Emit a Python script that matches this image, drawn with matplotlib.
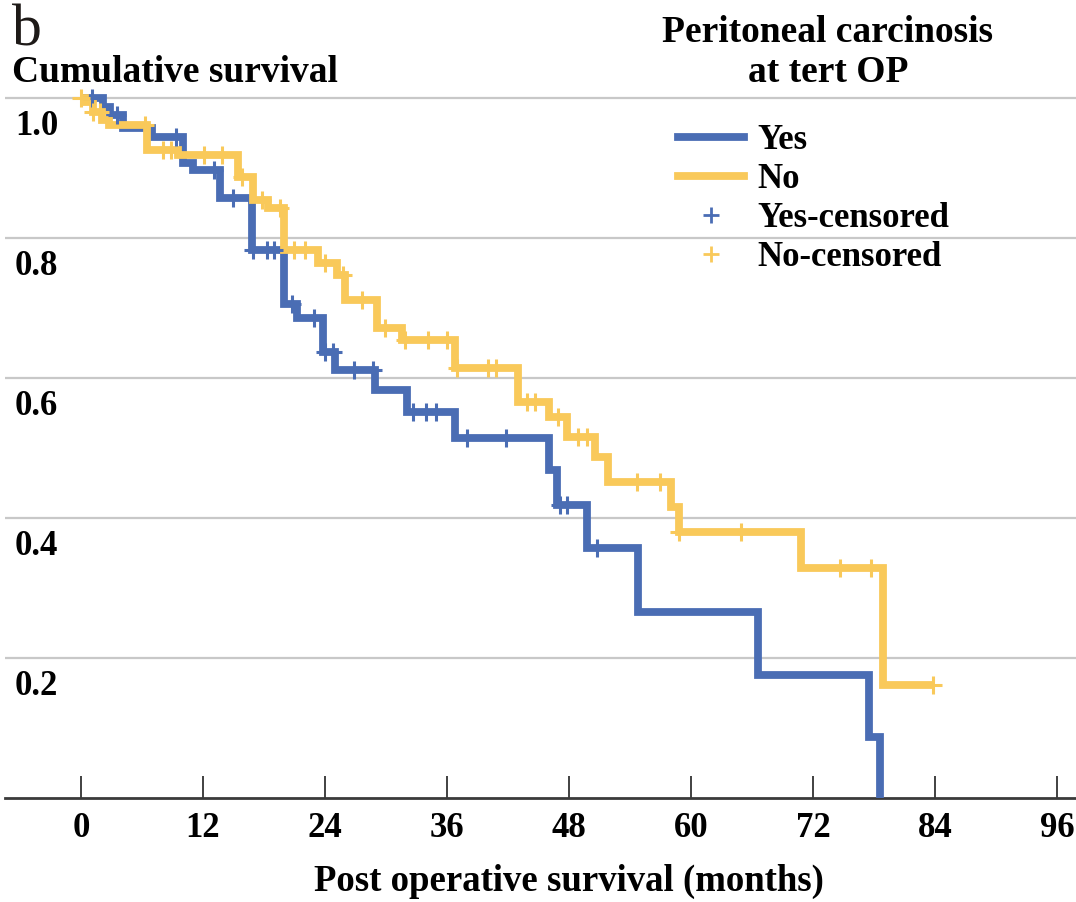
import numpy as np
import matplotlib
matplotlib.use('Agg')
import matplotlib.pyplot as plt
import matplotlib.transforms as mtransforms
from matplotlib.lines import Line2D

plt.rcParams['font.family'] = ['Liberation Serif', 'DejaVu Serif']
plt.rcParams['font.weight'] = 'bold'

# Kaplan-Meier steps (months, cumulative survival)
yes_times = [0, 2.2, 2.9, 4.1, 7.0, 10.0, 11.0, 13.7, 16.8, 20.0, 21.2, 23.8,
             25.0, 28.9, 32.1, 36.8, 46.0, 46.8, 49.8, 54.8, 66.6, 77.5, 78.6]
yes_surv = [1.0, 0.987, 0.976, 0.957, 0.944, 0.907, 0.897, 0.857, 0.783, 0.706,
            0.686, 0.637, 0.611, 0.583, 0.551, 0.514, 0.469, 0.419, 0.357,
            0.266, 0.176, 0.087, 0.0]
yes_censored = [1.1, 3.5, 9.3, 13.1, 15.0, 16.9, 18.3, 19.0, 20.8, 22.9, 24.0,
                24.8, 26.9, 28.7, 32.7, 33.9, 34.9, 38.0, 41.8, 47.1, 47.8, 50.8]

no_times = [0, 0.4, 1.2, 2.1, 2.8, 6.5, 9.5, 15.4, 16.9, 18.4, 20.0, 23.3,
            25.2, 26.0, 29.1, 31.6, 36.8, 43.0, 46.0, 47.8, 50.6, 51.8, 58.0,
            58.8, 70.8, 78.9]
no_surv = [1.0, 0.994, 0.98, 0.969, 0.961, 0.926, 0.918, 0.887, 0.854, 0.843,
           0.783, 0.764, 0.747, 0.712, 0.671, 0.654, 0.614, 0.566, 0.544,
           0.516, 0.487, 0.451, 0.416, 0.38, 0.329, 0.161]
no_censored = [0.0, 1.2, 1.9, 6.3, 8.1, 8.9, 12.1, 13.9, 15.8, 17.8, 19.6,
               21.0, 22.0, 24.0, 25.8, 27.6, 29.9, 31.9, 34.1, 36.0, 37.0,
               40.0, 40.8, 43.9, 44.7, 46.9, 48.9, 49.8, 54.7, 57.0, 58.8,
               64.9, 74.7, 77.7, 83.8]

x_ticks = [0, 12, 24, 36, 48, 60, 72, 84, 96]
y_ticks = [0.2, 0.4, 0.6, 0.8, 1.0]
y_tick_labels = ['0.2', '0.4', '0.6', '0.8', '1.0']

BLUE = '#4A6DB4'
YELLOW = '#F9C95A'
LW = 5.6


def surv_at(times, surv, t):
    i = np.searchsorted(times, t, side='right') - 1
    return np.asarray(surv)[i]


fig = plt.figure(figsize=(10.76, 9.02), dpi=100)
fig.patch.set_facecolor('white')
ax = fig.add_axes([5 / 1076, 104 / 902, 1071 / 1076, 714 / 902])
ax.set_xlim(-7.475, 97.87)
ax.set_ylim(0, 1.02)

# grid + axis
for v in y_ticks:
    ax.axhline(v, color='#c8c8c8', lw=1.6, zorder=0)
for s in ['top', 'right', 'left']:
    ax.spines[s].set_visible(False)
ax.spines['bottom'].set_color('#3a3a3a')
ax.spines['bottom'].set_linewidth(2)
ax.set_yticks([])
ax.set_xticks(x_ticks)
ax.set_xticklabels([str(t) for t in x_ticks])
ax.tick_params(axis='x', direction='in', length=16, width=1.3, color='#333333',
               pad=10, labelsize=25)

# curves
for times, surv, cens, col in [(yes_times, yes_surv, yes_censored, BLUE),
                               (no_times, no_surv, no_censored, YELLOW)]:
    end = max(times[-1], cens[-1])
    xs = list(times) + [end]
    ys = list(surv) + [surv[-1]]
    ax.step(xs, ys, where='post', color=col, lw=LW, solid_joinstyle='miter',
            solid_capstyle='butt', zorder=3)
    ax.plot(cens, surv_at(times, surv, cens), linestyle='none', marker='+',
            ms=13, mew=2.2, color=col, zorder=4)

# y tick labels sit under their gridlines
ytrans = mtransforms.blended_transform_factory(fig.transFigure, ax.transData) + \
    mtransforms.ScaledTranslation(0, -37 / 100, fig.dpi_scale_trans)
for v, lab in zip(y_ticks, y_tick_labels):
    ax.text(15 / 1076, v, lab, transform=ytrans, ha='left', va='baseline',
            fontsize=25, clip_on=False)

# axis titles
xtrans = mtransforms.blended_transform_factory(ax.transData, ax.transAxes)
ax.set_xlabel('Post operative survival (months)', fontsize=26.5,
              fontweight='bold')
ax.xaxis.set_label_coords(48, -0.092, transform=xtrans)
fig.text(12 / 1076, 1 - 82 / 902, 'Cumulative survival', fontsize=27,
         ha='left', va='baseline')
fig.text(12 / 1076, 1 - 45 / 902, 'b', fontsize=43, fontweight='normal',
         color='#1e1a18', ha='left', va='baseline')

# legend
fig.text(828 / 1076, 1 - 42 / 902, 'Peritoneal carcinosis', fontsize=27,
         ha='center', va='baseline')
fig.text(828 / 1076, 1 - 82 / 902, 'at tert OP', fontsize=27,
         ha='center', va='baseline')
handles = [Line2D([], [], color=BLUE, lw=LW),
           Line2D([], [], color=YELLOW, lw=LW),
           Line2D([], [], color=BLUE, ls='none', marker='+', ms=12, mew=2),
           Line2D([], [], color=YELLOW, ls='none', marker='+', ms=12, mew=2)]
labels = ['Yes', 'No', 'Yes-censored', 'No-censored']
fig.legend(handles, labels, loc='upper left',
           bbox_to_anchor=(678 / 1076, 1 - 124 / 902), frameon=False,
           fontsize=25, handlelength=1.9, handletextpad=0.4,
           labelspacing=0.17, borderpad=0, borderaxespad=0)

fig.savefig('out.png', dpi=100, facecolor='white')
